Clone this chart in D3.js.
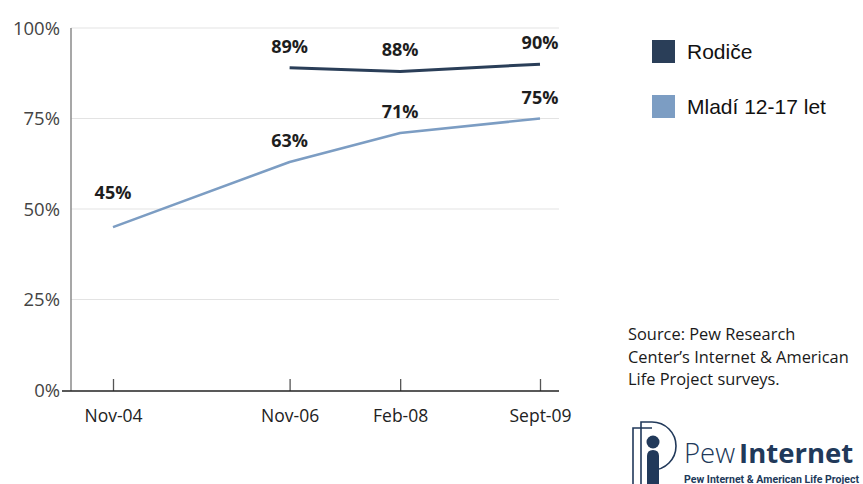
<!DOCTYPE html>
<html>
<head>
<meta charset="utf-8">
<script src="https://cdn.jsdelivr.net/npm/d3@7"></script>
<style>
  html, body { margin: 0; padding: 0; background: #fff; }
  svg { display: block; }
</style>
</head>
<body>
<svg id="chart" width="863" height="484"></svg>
<script>
// Survey dates and shares (%)
const surveyDates = ["2004-11-01", "2006-11-01", "2008-02-01", "2009-09-01"];
const dateLabels = ["Nov-04", "Nov-06", "Feb-08", "Sept-09"];
const parents = [null, 89, 88, 90];
const teens = [45, 63, 71, 75];
const seriesNames = ["Rodiče", "Mladí 12-17 let"];
const yTicks = [0, 25, 50, 75, 100];
const sourceLines = ["Source: Pew Research", "Center’s Internet & American", "Life Project surveys."];

const parseDate = d3.timeParse("%Y-%m-%d");
const dates = surveyDates.map(parseDate);

const svg = d3.select("#chart");
const colors = ["#2a3e58", "#7c9dc3"];

const plotLeft = 71, plotRight = 559, baseY = 391;
const x = d3.scaleTime().domain([dates[0], dates[dates.length - 1]]).range([113, 540]);
const y = d3.scaleLinear().domain([0, 100]).range([390, 28]);

// horizontal gridlines
svg.append("g").selectAll("line").data(yTicks.filter(t => t > 0)).join("line")
  .attr("x1", plotLeft).attr("x2", plotRight)
  .attr("y1", d => y(d)).attr("y2", d => y(d))
  .attr("stroke", "#e3e3e3").attr("stroke-width", 1.2);

// y axis labels
const yAxis = d3.axisLeft(y).tickValues(yTicks).tickFormat(d => d + "%").tickSize(0).tickPadding(0);
const gy = svg.append("g").attr("transform", `translate(60,0)`).call(yAxis);
gy.select(".domain").remove();
gy.selectAll("text")
  .attr("font-family", "'Open Sans', 'Noto Sans', sans-serif")
  .attr("font-size", 18.5).attr("fill", "#444").attr("dy", "0.35em");

// vertical axis line
svg.append("line").attr("x1", plotLeft).attr("x2", plotLeft)
  .attr("y1", y(100)).attr("y2", baseY)
  .attr("stroke", "#8a8a8a").attr("stroke-width", 1.5);

// x axis with upward ticks
const xAxis = d3.axisBottom(x).tickValues(dates).tickFormat((d, i) => dateLabels[i])
  .tickSizeInner(-12).tickSizeOuter(0).tickPadding(19);
const gx = svg.append("g").attr("transform", `translate(0,${baseY})`).call(xAxis);
gx.select(".domain").remove();
gx.selectAll(".tick line").attr("stroke", "#555").attr("stroke-width", 1.3);
gx.selectAll("text")
  .attr("font-family", "'Open Sans', 'Noto Sans', sans-serif")
  .attr("font-size", 17.5).attr("fill", "#222");
svg.append("line").attr("x1", 62).attr("x2", plotRight)
  .attr("y1", baseY).attr("y2", baseY)
  .attr("stroke", "#222").attr("stroke-width", 1.6);

// series lines
const series = [parents, teens];
const line = d3.line()
  .defined(d => d.v != null)
  .x(d => x(d.date)).y(d => y(d.v));
series.forEach((vals, s) => {
  const pts = vals.map((v, i) => ({ date: dates[i], v }));
  svg.append("path").datum(pts)
    .attr("fill", "none").attr("stroke", colors[s])
    .attr("stroke-width", s === 0 ? 3 : 2.6)
    .attr("stroke-linejoin", "round")
    .attr("d", line);
  // value labels above each point
  svg.append("g").selectAll("text").data(pts.filter(p => p.v != null)).join("text")
    .attr("x", p => x(p.date))
    .attr("y", (p, i) => y(p.v) - (s === 1 && i === 0 ? 28 : 15))
    .attr("text-anchor", "middle")
    .attr("font-family", "'Open Sans', 'Noto Sans', sans-serif")
    .attr("font-weight", 700).attr("font-size", 18).attr("fill", "#1e1e1e")
    .text(p => p.v + "%");
});

// legend
const legend = svg.append("g").attr("transform", "translate(652,40)");
seriesNames.forEach((name, i) => {
  const g = legend.append("g").attr("transform", `translate(0,${i * 55})`);
  g.append("rect").attr("width", 23).attr("height", 23).attr("fill", colors[i]);
  g.append("text").attr("x", 35).attr("y", 12).attr("dy", "0.35em")
    .attr("font-family", "'Liberation Sans', Arial, sans-serif")
    .attr("font-size", 21).attr("fill", "#111").text(name);
});

// source note
svg.append("g").selectAll("text").data(sourceLines).join("text")
  .attr("x", 628).attr("y", (d, i) => 340 + i * 22.5)
  .attr("font-family", "'Open Sans', 'Noto Sans', sans-serif")
  .attr("font-size", 16.4).attr("fill", "#1a1a1a")
  .text(d => d);

// Pew Internet logo
const logo = svg.append("g");
const navy = "#21395a";
logo.append("path")
  .attr("d", "M633,484 V428 H652 M641,484 V422 H652 A24,24 0 0 1 652,470")
  .attr("fill", "none").attr("stroke", navy).attr("stroke-width", 1.6);
logo.append("circle").attr("cx", 653).attr("cy", 442).attr("r", 6.5).attr("fill", navy);
logo.append("path")
  .attr("d", "M647,484 V456 Q647,450 653,450 Q659,450 659,456 V484 Z")
  .attr("fill", navy);
const brand = logo.append("text").attr("x", 684).attr("y", 463)
  .attr("font-family", "'Open Sans', 'Noto Sans', sans-serif")
  .attr("font-size", 27.5).attr("fill", navy);
brand.append("tspan").attr("font-weight", 300).text("Pew");
brand.append("tspan").attr("font-weight", 700).attr("dx", 4).text("Internet");
logo.append("text").attr("x", 684).attr("y", 483)
  .attr("font-family", "'Roboto', 'Noto Sans', sans-serif")
  .attr("font-weight", 700).attr("font-size", 10).attr("fill", navy)
  .attr("textLength", 175).attr("lengthAdjust", "spacingAndGlyphs")
  .text("Pew Internet & American Life Project");
</script>
</body>
</html>
